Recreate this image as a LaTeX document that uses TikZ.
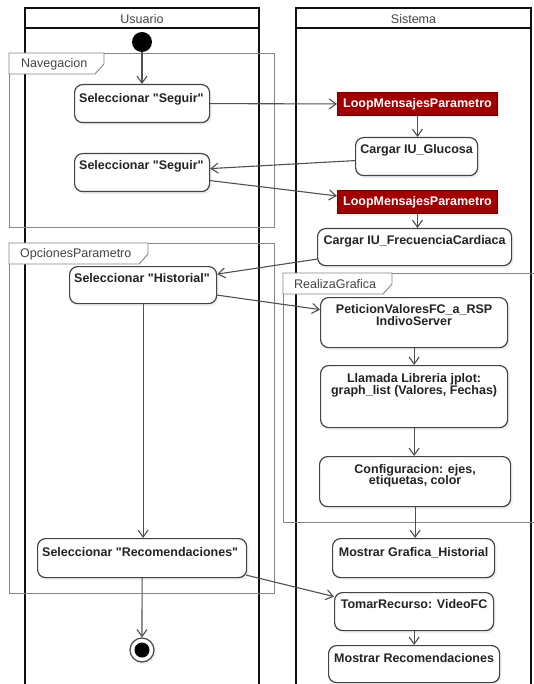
\documentclass[tikz,border=0pt]{standalone}
\usepackage{fontspec}
% a family without the TeX ligature mapping keeps straight double quotes
\newfontfamily\uifont{Liberation Sans}
\usetikzlibrary{arrows.meta,shadows,calc}
\definecolor{lanec}{HTML}{101010}
\definecolor{framec}{HTML}{858585}
\definecolor{boxc}{HTML}{444444}
\definecolor{flowc}{HTML}{505050}
\definecolor{txtc}{HTML}{222222}
\definecolor{hdrc}{HTML}{444444}
\definecolor{loopred}{HTML}{A00000}
\definecolor{loopdark}{HTML}{6A0000}
\begin{document}
\begin{tikzpicture}[x=1pt,y=-1pt,
  font=\uifont\fontsize{12.5}{13}\selectfont,
  lane/.style={draw=lanec,line width=1.6pt},
  frame/.style={draw=framec,line width=0.9pt},
  tab/.style={draw=framec,fill=white,line width=0.9pt},
  tablbl/.style={text=hdrc,inner sep=0pt,anchor=base west},
  hdr/.style={text=hdrc,inner sep=0pt,anchor=base},
  act/.style={draw=boxc,fill=white,line width=1.2pt,rounded corners=8pt,
    anchor=north west,inner sep=0pt,
    drop shadow={opacity=0.12,shadow xshift=2pt,shadow yshift=-2.5pt}},
  loopbox/.style={draw=loopdark,fill=loopred,line width=0.9pt,text=white,
    font=\uifont\fontsize{12.5}{13}\selectfont\bfseries,anchor=north west,inner sep=0pt,
    minimum width=160pt,minimum height=23pt,
    drop shadow={opacity=0.12,shadow xshift=2pt,shadow yshift=-2.5pt}},
  lbl/.style={text=txtc,font=\uifont\fontsize{12.5}{13}\selectfont\bfseries,inner sep=0pt},
  flow/.style={draw=flowc,line width=1.1pt,-{Straight Barb[length=7pt,width=10pt]}}
]
\useasboundingbox (0,0) rectangle (534,684);

% swimlanes
\draw[lane] (25,690) -- (25,8) -- (259,8) -- (259,690);
\draw[lane] (25,28) -- (259,28);
\node[hdr] (hdrU) at (142,23.5) {Usuario};
\draw[lane] (296,690) -- (296,8) -- (531,8) -- (531,690);
\draw[lane] (296,28) -- (531,28);
\node[hdr] (hdrS) at (413.5,23.5) {Sistema};

% interaction frames
\draw[frame] (9,53) rectangle (274,227);
\draw[tab] (9,53) -- (104,53) -- (104,64) -- (95,74) -- (9,74) -- cycle;
\node[tablbl] (navT) at (21,68) {Navegacion};

\draw[frame] (9,243) rectangle (274,593);
\draw[tab] (9,243) -- (148,243) -- (148,254) -- (139,264) -- (9,264) -- cycle;
\node[tablbl] (opcT) at (20,258) {OpcionesParametro};

\draw[frame] (283,273) rectangle (545,522);
\draw[tab] (283,273) -- (392,273) -- (392,284) -- (383,294) -- (283,294) -- cycle;
\node[tablbl] (realT) at (294,288) {RealizaGrafica};

% initial and final nodes
\node[circle,fill=black,minimum size=20pt,inner sep=0pt] (ini) at (142,42) {};
\node[circle,draw=boxc,fill=white,line width=1.2pt,minimum size=24pt,inner sep=0pt,
  drop shadow={opacity=0.12,shadow xshift=2pt,shadow yshift=-2.5pt}] (fin) at (142,650) {};
\node[circle,fill=black,minimum size=15pt,inner sep=0pt] (finc) at (fin.center) {};

% Usuario actions (text at top left)
\node[act,minimum width=135pt,minimum height=38pt] (seg1) at (74,84) {};
\node[lbl,anchor=base west] (seg1t) at ($(seg1.north west)+(5,19)$) {Seleccionar "Seguir"};
\node[act,minimum width=135pt,minimum height=38pt] (seg2) at (74,153) {};
\node[lbl,anchor=base west] (seg2t) at ($(seg2.north west)+(5,17)$) {Seleccionar "Seguir"};
\node[act,minimum width=147pt,minimum height=37pt] (hist) at (69,266) {};
\node[lbl,anchor=base west] (histt) at ($(hist.north west)+(5,16)$) {Seleccionar "Historial"};
\node[act,minimum width=209pt,minimum height=39pt] (recs) at (37,538) {};
\node[lbl,anchor=base west] (recst) at ($(recs.north west)+(5,18)$) {Seleccionar "Recomendaciones"};

% Sistema actions (text centred at top)
\node[loopbox] (loop1) at (337,92) {LoopMensajesParametro};
\node[act,minimum width=122pt,minimum height=38pt] (gluc) at (355,137) {};
\node[lbl,anchor=base] (glucT) at ($(gluc.north)+(0,17)$) {Cargar IU\_Glucosa};
\node[loopbox] (loop2) at (337,190) {LoopMensajesParametro};
\node[act,minimum width=194pt,minimum height=37pt] (fc) at (317,228) {};
\node[lbl,anchor=base] (fcT) at ($(fc.north)+(0,17)$) {Cargar IU\_FrecuenciaCardiaca};

\node[act,minimum width=187pt,minimum height=50pt] (pet) at (320,297) {};
\node[lbl,anchor=base] (petA) at ($(pet.north)+(0,16)$) {PeticionValoresFC\_a\_RSP};
\node[lbl,anchor=base] (petB) at ($(pet.north)+(0,28)$) {IndivoServer};
\node[act,minimum width=187pt,minimum height=62pt] (llam) at (320,365) {};
\node[lbl,anchor=base] (llamA) at ($(llam.north)+(0,17)$) {Llamada Libreria jplot:};
\node[lbl,anchor=base] (llamB) at ($(llam.north)+(0,29)$) {graph\_list (Valores, Fechas)};
\node[act,minimum width=191pt,minimum height=50pt] (conf) at (319,456) {};
\node[lbl,anchor=base] (confA) at ($(conf.north)+(0,17)$) {Configuracion: ejes,};
\node[lbl,anchor=base] (confB) at ($(conf.north)+(0,28.5)$) {etiquetas, color};

\node[act,minimum width=162pt,minimum height=39pt] (mgraf) at (332,538) {};
\node[lbl,anchor=base] (mgrafT) at ($(mgraf.north)+(0,18)$) {Mostrar Grafica\_Historial};
\node[act,minimum width=159pt,minimum height=38pt] (tomar) at (334,592) {};
\node[lbl,anchor=base] (tomarT) at ($(tomar.north)+(0,16)$) {TomarRecurso: VideoFC};
\node[act,minimum width=171pt,minimum height=37pt] (mrec) at (328,645) {};
\node[lbl,anchor=base] (mrecT) at ($(mrec.north)+(0,17)$) {Mostrar Recomendaciones};

% control flows
\draw[flow] (ini.south) -- (ini.south |- seg1.north);
\draw[flow] (seg1.east) -- (loop1.west);
\draw[flow] (loop1.south) -- (loop1.south |- gluc.north);
\draw[flow] ($(gluc.west)+(0,4)$) -- ($(seg2.east)+(0,-4)$);
\draw[flow] ($(seg2.east)+(0,8)$) -- ($(loop2.west)+(0,-6)$);
\draw[flow] (loop2.south) -- (loop2.south |- fc.north);
\draw[flow] ($(fc.west)+(0,12)$) -- ($(hist.east)+(0,-11)$);
\draw[flow] ($(hist.east)+(0,10)$) -- ($(pet.west)+(0,-13)$);
\draw[flow] (hist.south) -- (hist.south |- recs.north);
\draw[flow] (pet.south) -- (pet.south |- llam.north);
\draw[flow] (llam.south) -- (llam.south |- conf.north);
\draw[flow] (conf.south) -- (conf.south |- mgraf.north);
\draw[flow] ($(recs.east)+(-1,17)$) -- ($(tomar.west)+(0,-15)$);
\draw[flow] (tomar.south) -- (tomar.south |- mrec.north);
\draw[flow] (recs.south) -- (fin.north);
\end{tikzpicture}
\end{document}
